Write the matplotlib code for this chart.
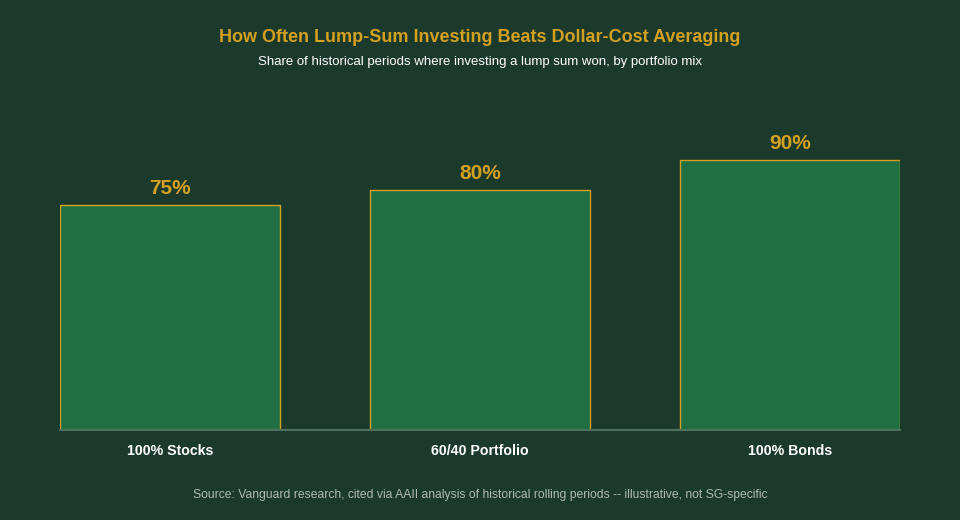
import matplotlib.pyplot as plt

plt.rcParams['font.family'] = ['Liberation Sans', 'DejaVu Sans']

categories = ["100% Stocks", "60/40 Portfolio", "100% Bonds"]
win_share = [75, 80, 90]
value_labels = ["75%", "80%", "90%"]

bg = "#1b3a2b"
gold = "#d4a020"

fig = plt.figure(figsize=(9.6, 5.2), dpi=100, facecolor=bg)
ax = fig.add_axes([0.0625, 0.1731, 0.875, 0.5769], facecolor=bg)

x = range(len(categories))
bars = ax.bar(x, win_share, width=0.71, color="#1f6f43", edgecolor=gold, linewidth=1)
ax.set_xlim(-0.355, len(categories) - 1 + 0.355)
ax.set_ylim(0, 100)

for b, lab in zip(bars, value_labels):
    ax.annotate(lab, (b.get_x() + b.get_width() / 2, b.get_height()),
                xytext=(0, 5), textcoords="offset points", ha="center", va="bottom",
                color=gold, fontsize=15, fontweight="bold")

for s in ["top", "right", "left"]:
    ax.spines[s].set_visible(False)
ax.spines["bottom"].set_color("#4f6f5f")
ax.spines["bottom"].set_linewidth(1.5)
ax.set_yticks([])
ax.set_xticks(list(x))
ax.set_xticklabels(categories, color="white", fontsize=10.2, fontweight="bold")
ax.tick_params(axis="x", length=0, pad=10)

fig.text(0.5, 0.927, "How Often Lump-Sum Investing Beats Dollar-Cost Averaging",
         ha="center", va="center", color=gold, fontsize=13, fontweight="bold")
fig.text(0.5, 0.881, "Share of historical periods where investing a lump sum won, by portfolio mix",
         ha="center", va="center", color="white", fontsize=9.5)
fig.text(0.5, 0.048, "Source: Vanguard research, cited via AAII analysis of historical rolling periods -- illustrative, not SG-specific",
         ha="center", va="center", color="#b0bab3", fontsize=8.7)

fig.savefig("out.png", dpi=100, facecolor=bg)
